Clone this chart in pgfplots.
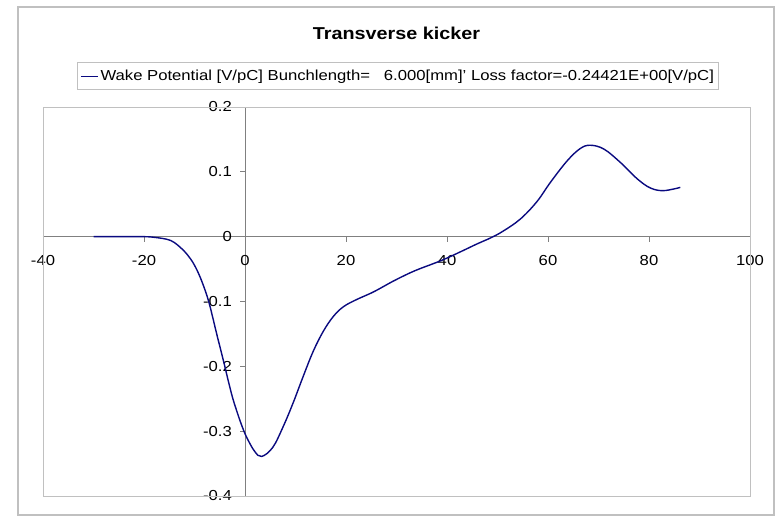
\documentclass[border=0pt]{standalone}
\usepackage{pgfplots}
\pgfplotsset{compat=1.18}
\usepackage{fontspec}
\setmainfont{Liberation Sans}[FakeStretch=1.15]
\definecolor{wakeblue}{RGB}{10,10,128}
\definecolor{framegray}{RGB}{192,192,192}
\definecolor{axisgray}{RGB}{128,128,128}

\pgfplotstableread{
x y
-30 0
-25 0
-20 0
-18 -0.001
-15.5 -0.004
-14 -0.009
-12.2 -0.021
-11.2 -0.030
-10.3 -0.040
-9.3 -0.055
-8.3 -0.074
-7.3 -0.097
-6.5 -0.121
-5.7 -0.147
-4.8 -0.175
-4.0 -0.200
-3.2 -0.226
-2.4 -0.250
-1.5 -0.272
-0.7 -0.290
0.3 -0.309
1.9 -0.331
3.3 -0.339
5.5 -0.325
7.5 -0.294
9.5 -0.257
11.5 -0.216
13.5 -0.177
15.5 -0.146
17.5 -0.123
19.5 -0.108
22.1 -0.097
25.5 -0.085
29.5 -0.068
33.5 -0.053
37.5 -0.041
40.0 -0.033
43.3 -0.021
46.0 -0.011
48.6 -0.002
51.0 0.008
54.5 0.027
57.8 0.054
60.5 0.084
63.8 0.117
66.4 0.136
68.4 0.141
71.1 0.135
74.4 0.114
77.7 0.089
80.3 0.075
82.9 0.071
86.2 0.076
}\wakedata

\begin{document}
\begin{tikzpicture}[x=1pt,y=1pt]
\useasboundingbox (0,0) rectangle (781,519);
\fill[white] (0,0) rectangle (781,519);
\draw[framegray, line width=1.2pt] (18,4) rectangle (774,512);
\begin{axis}[
  at={(43pt,23pt)}, anchor=south west,
  scale only axis, width=707pt, height=389pt,
  xmin=-40, xmax=100, ymin=-0.4, ymax=0.2,
  axis lines=middle,
  axis line style={-, axisgray, line width=0.9pt},
  hide obscured x ticks=false, hide obscured y ticks=false,
  xtick={-40,-20,0,20,40,60,80,100},
  ytick={-0.4,-0.3,-0.2,-0.1,0,0.1,0.2},
  yticklabels={-0.4,-0.3,-0.2,-0.1,0,0.1,0.2},
  xticklabels={-40,-20,0,20,40,60,80,100},
  tick align=outside, major tick length=5pt,
  tick style={axisgray, line width=0.7pt},
  /pgf/number format/assume math mode=true,
  tick label style={font=\fontsize{14.5}{16}\selectfont, black, inner sep=0pt},
  xticklabel style={anchor=north, yshift=-13.5pt},
  yticklabel style={anchor=east, xshift=-8pt},
  clip=false,
  title={\bfseries Transverse kicker},
  title style={at={(0.5,1.175)}, anchor=center, font=\fontsize{17.2}{19}\selectfont},
  legend style={at={(0.5022,1.0787)}, anchor=center, draw=framegray,
    line width=0.8pt,
    font=\fontsize{14.5}{16}\selectfont, inner xsep=2.5pt, inner ysep=5.5pt,
    legend cell align=left},
  legend image code/.code={\draw[#1, line width=1.4pt] (0pt,0pt) -- (17pt,0pt);},
]
\draw[framegray, line width=0.9pt] (rel axis cs:0,0) rectangle (rel axis cs:1,1);
\addplot[wakeblue, line width=1.4pt, smooth, tension=0.6, no marks] table {\wakedata};
\addlegendentry{Wake Potential [V/pC] Bunchlength=\ \ \ 6.000[mm]' Loss factor=-0.24421E+00[V/pC]}
\end{axis}
\end{tikzpicture}
\end{document}
